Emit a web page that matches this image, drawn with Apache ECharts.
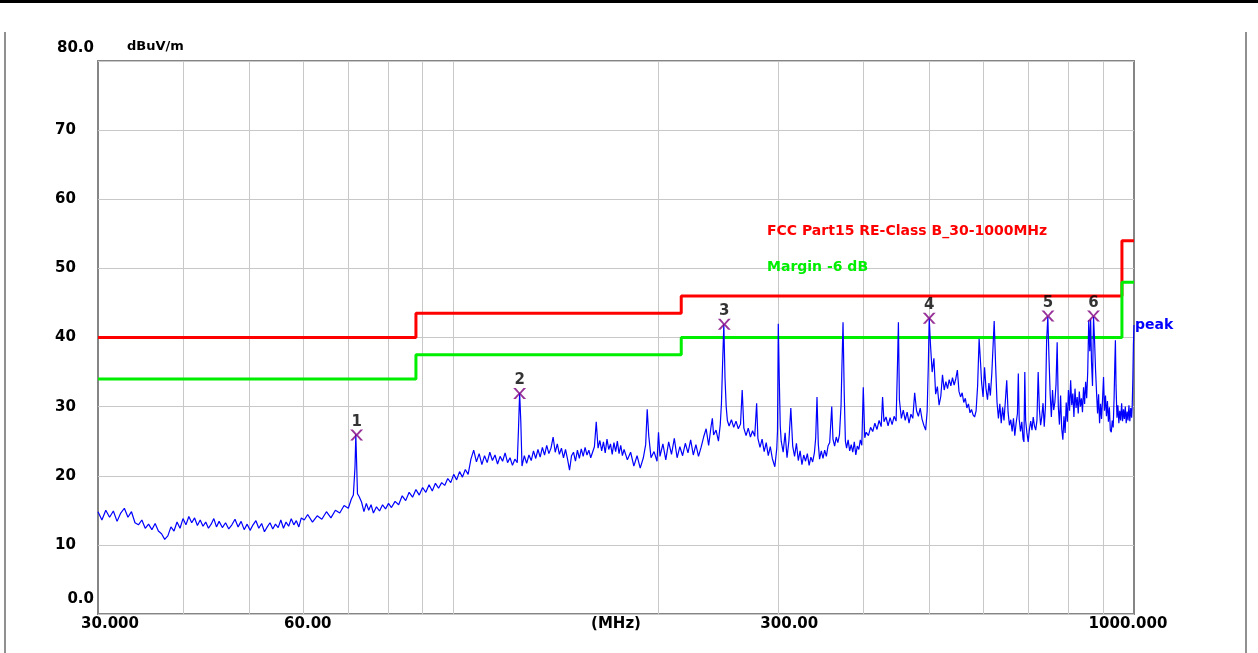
<!DOCTYPE html>
<html>
<head>
<meta charset="utf-8">
<script src="https://cdn.jsdelivr.net/npm/echarts@6/dist/echarts.min.js"></script>
<style>
  html, body { margin: 0; padding: 0; background: #fff; }
  #chart { width: 1258px; height: 653px; }
</style>
</head>
<body>
<div id="chart"></div>
<script>
// 扫描曲线: [频率 MHz, 场强 dBuV/m]
const trace = [
  [30.0,14.8],[30.4,13.6],[30.8,15.0],[31.2,14.0],[31.6,14.9],[32.0,13.4],[32.4,14.6],[32.8,15.3],[33.2,14.0],[33.6,14.8],
  [34.0,13.2],[34.4,12.9],[34.8,13.6],[35.2,12.4],[35.6,13.0],[36.0,12.2],[36.4,13.1],[36.8,12.0],[37.2,11.6],[37.6,10.8],
  [38.0,11.3],[38.4,12.6],[38.8,12.0],[39.2,13.3],[39.6,12.4],[40.0,13.8],[40.4,12.9],[40.8,14.1],[41.2,13.2],[41.6,13.9],
  [42.0,12.8],[42.4,13.6],[42.8,12.7],[43.2,13.3],[43.6,12.4],[44.0,13.0],[44.4,13.8],[44.8,12.6],[45.2,13.4],[45.7,12.5],
  [46.2,13.2],[46.7,12.3],[47.2,12.9],[47.7,13.7],[48.2,12.6],[48.7,13.4],[49.2,12.2],[49.7,13.0],[50.2,12.1],[50.7,12.9],
  [51.2,13.5],[51.7,12.4],[52.2,13.1],[52.7,11.9],[53.2,12.6],[53.7,13.2],[54.2,12.3],[54.7,13.0],[55.2,12.5],[55.7,13.6],
  [56.2,12.4],[56.7,13.3],[57.2,12.7],[57.7,13.8],[58.2,12.9],[58.7,13.5],[59.2,12.6],[59.7,13.9],
  [60.3,13.6],[61,14.4],[62,13.3],[63,14.2],[64,13.7],[65,14.8],[66,13.9],[67,15.0],[68,14.6],[69,15.7],
  [70,15.3],[70.7,16.6],[71.2,17.2],[71.6,21.3],[71.8,26.0],[72.0,25.9],[72.2,17.4],[72.6,17.0],[73.2,16.2],[73.8,14.8],
  [74.4,16.0],[75,15.0],[75.6,15.8],[76.2,14.6],[77,15.5],[77.8,14.9],[78.6,15.8],[79.4,15.2],[80.2,16.0],[81,15.4],
  [82,16.3],[83,15.8],[84,17.1],[85,16.4],[86,17.6],[87,16.9],[88,18.0],[89,17.2],[90,18.3],[91,17.6],
  [92,18.7],[93,17.8],[94,18.9],[95,18.2],[96,19.0],[97,18.6],[98,19.6],[99,19.0],[100,20.2],
  [101,19.4],[102,20.6],[103,19.8],[104,20.9],[105,20.2],[106,22.4],[107,23.7],[108,22.0],[109,23.2],[110,21.6],
  [111,22.9],[112,21.9],[113,23.4],[114,22.2],[115,23.0],[116,21.7],[117,22.8],[118,22.1],[119,23.3],[120,21.9],
  [121,22.6],[122,21.5],[123,22.4],[124,21.9],[124.5,26.6],[125,32.0],[125.5,27.8],[126,21.4],[127,22.9],[128,21.8],
  [129,23.0],[130,22.2],[131,23.6],[132,22.5],[133,23.8],[134,22.7],[135,24.1],[136,23.0],[137,24.4],[138,23.2],
  [139,24.0],[140,25.6],[141,23.4],[142,24.6],[143,23.1],[144,24.0],[145,22.6],[146,23.8],[147,22.4],[148,20.8],
  [149,22.9],[150,23.4],[151,22.1],[152,23.7],[153,22.5],[154,23.9],[155,22.8],[156,24.1],[157,23.0],[158,23.7],
  [159,22.6],[160,23.4],[161,24.2],[162,27.8],[163,24.0],[164,25.1],[165,23.6],[166,24.9],[167,23.3],[168,25.3],
  [169,23.8],[170,24.6],[171,23.1],[172,24.8],[173,23.5],[174,25.0],[175,23.2],[176,24.4],[177,22.9],[178,23.8],
  [180,22.3],[182,23.4],[184,21.4],[186,22.9],[188,21.1],[190,22.6],[191.5,24.5],[192.5,29.6],[193.5,25.8],[195,22.6],
  [197,23.5],[199,22.1],
  [200,26.3],[201,22.8],[203,24.6],[205,22.3],[207,24.9],[209,23.1],[211,25.4],[213,22.6],[215,24.2],[217,22.9],
  [219,24.7],[221,23.3],[223,25.2],[225,23.0],[227,24.5],[229,22.8],[231,24.1],[233,25.6],[235,26.8],[237,24.4],
  [239,27.2],[240,28.3],[241,25.9],[243,26.6],[245,25.0],[246.5,27.4],[247.5,30.5],[248.5,36.5],[249.5,41.9],[250.5,34.1],
  [251.5,30.0],[252.5,28.0],[254,27.2],[256,28.1],[258,27.0],[260,27.9],[262,26.8],[264,27.5],[265.5,32.4],[267,26.9],
  [269,25.8],[271,26.9],[273,25.6],[275,26.5],[277,25.7],[278.8,30.5],[280,25.4],[282,24.1],[284,25.3],[286,23.5],
  [288,24.8],[290,22.9],[292,24.2],[294,22.5],[296.5,21.3],[298.5,24.0],[299.2,26.5],[300,42.0],[301,34.0],[302,27.2],
  [303,25.0],[305,23.4],[307,26.2],[309,22.6],[311,25.1],[313,29.8],[315,24.3],[317,22.8],[319,24.7],[321,22.2],
  [323,23.6],[325,21.6],[327,23.0],[329,22.1],[331,23.2],[333,21.5],[335,22.7],[337,22.0],[339,23.3],[340.5,25.5],
  [342,31.4],[343.5,24.6],[345,22.4],[347,23.6],[349,22.5],[351,23.7],[353,22.8],[355,24.3],[357,24.8],[359.5,30.0],
  [361,25.3],[363,24.3],[365,25.6],[367,24.8],[369,25.9],[371,30.2],[372,35.3],[373.5,42.2],[375,32.0],[376.5,25.0],
  [378,24.0],[380,25.2],[382,23.6],[384,24.5],[386,23.4],[388,24.9],[390,23.0],[392,24.3],[394,23.8],[396,25.2],
  [398,24.4],[400,32.8],[402,25.5],[404,26.3],[407,25.8],[410,27.0],[413,26.4],[416,27.6],[419,26.7],[422,28.0],
  [425,27.1],[427,31.4],[429,27.8],[432,28.5],[435,27.2],[438,28.4],[441,27.4],[444,28.6],[447,27.9],[449,35.7],
  [450.5,42.2],[452,31.0],[455,28.3],[458,29.5],[461,28.0],[464,29.2],[467,27.6],[470,28.9],[473,28.3],[476,32.0],
  [479,29.4],[482,28.6],[485,29.8],[488,28.2],[491,27.3],[494,26.6],[496.5,29.3],[498.5,36.0],[500,42.8],[502,39.2],
  [505,35.0],[508,37.0],[511,31.8],[514,32.9],[517,30.2],
  [520,31.5],[523,34.6],[526,32.4],[529,33.6],[532,32.6],[535,33.9],[538,33.0],[541,34.2],[544,33.1],[547,34.0],
  [550,35.3],[553,32.2],[556,31.4],[559,32.0],[562,30.6],[565,31.2],[568,29.8],[571,30.4],[574,29.1],[577,29.6],
  [580,28.8],[583,28.5],[586,29.4],[589,33.0],[592,39.8],[595,36.2],[597,33.5],[600,31.4],[603,35.7],[606,32.6],
  [609,31.0],[612,33.4],[615,31.6],[618,34.8],[620.5,38.6],[623,42.4],[626,36.0],[629,30.6],[632,28.3],[635,30.4],
  [638,27.6],[641,29.9],[644,28.0],[647,30.8],[650,33.8],[653,29.2],[656,27.3],[659,28.1],[662,26.4],[665,28.3],
  [668,25.8],[671,27.6],[674,29.0],[676,34.8],[678,28.2],[681,26.4],[684,27.8],[687,25.3],[689,24.9],[691,35.0],
  [693,28.0],[696,26.2],[699,24.9],[702,26.8],[705,27.9],[708,26.6],[711,28.5],[714,27.2],[717,26.6],[720,28.0],
  [723,35.0],[726,29.6],[729,27.3],[732,28.6],[735,30.5],[738,27.1],[741,30.0],[744,39.6],[747,43.0],[750,37.0],
  [753,31.8],[756,28.5],[759,32.4],[762,29.5],[765,30.6],[768,33.2],[771,39.3],[774,30.0],[777,27.4],[780,31.6],
  [783,26.8],[786,25.2],[789,28.6],[792,26.2],[795,30.6],[798,27.8],[801,32.4],[804,29.4],[807,33.8],[810,30.2],
  [813,31.9],[816,28.5],[819,32.6],[822,29.8],[825,31.4],[828,29.0],[831,32.2],[834,30.0],[837,31.2],[840,29.2],
  [843,32.8],[846,30.4],[849,33.6],[852,31.2],[855,35.0],[858,42.5],[861,38.0],[863.5,42.6],[866,36.5],[869,33.0],
  [872,43.0],[875,39.6],[878,35.3],[881,32.0],[884,29.0],[887,31.8],[890,27.6],[893,30.4],[896,28.2],[899,31.0],
  [902,34.3],[905,29.4],[908,31.6],[911,28.6],[914,30.8],[917,27.8],[920,29.9],[923,26.6],[926,26.3],[929,28.0],
  [932,27.0],[935,31.5],[937,36.0],[939,39.6],[941,33.0],[944,28.4],[947,30.2],[950,27.6],[953,29.4],[956,28.0],
  [959,30.5],[962,27.9],[965,29.6],[968,28.2],[971,30.0],[974,27.6],[977,29.3],[980,28.0],[983,30.2],[986,27.9],
  [989,29.8],[992,28.4],[994,30.1],[996,33.8],[998,39.0],[1000,41.8]
];

// 限值线 FCC Part15 Class B 及 -6dB 余量
const limitLine = [[30,40],[88,43.5],[216,46],[960,54],[1000,54]];
const marginLine = [[30,34],[88,37.5],[216,40],[960,48],[1000,48]];

// 标记点 [频率, 读数, 编号]
const markers = [
  [72.0, 25.9, '1'],
  [125.0, 31.9, '2'],
  [249.9, 41.9, '3'],
  [500.0, 42.8, '4'],
  [747.4, 43.1, '5'],
  [872.0, 43.1, '6']
];

const limitName = 'FCC Part15 RE-Class B_30-1000MHz';
const marginName = 'Margin -6 dB';

const yTicks = [10, 20, 30, 40, 50, 60, 70];
const yEndTicks = [0, 80];
const yEndLabels = ['0.0', '80.0'];
const xGridFreqs = [40, 50, 60, 70, 80, 90, 100, 200, 300, 400, 500, 600, 700, 800, 900];
const xTickFreqs = [30, 60, 300, 1000];
const xTickLabels = ['30.000', '60.00', '300.00', '1000.000'];

const FONT = 'DejaVu Sans';
const lg = (f) => Math.log10(f);
const toXY = (arr) => arr.map(p => [lg(p[0]), p[1]]);
const txt = (size, extra) => Object.assign({ fontFamily: FONT, fontWeight: 'bold', fontSize: size, color: '#000' }, extra || {});

const chart = echarts.init(document.getElementById('chart'));

const option = {
  backgroundColor: '#fff',
  animation: false,
  legend: {
    left: 757,
    top: 219,
    orient: 'vertical',
    icon: 'none',
    itemWidth: 0,
    itemHeight: 14,
    itemGap: 22,
    selectedMode: false,
    textStyle: { fontFamily: FONT, fontWeight: 'bold', fontSize: 14 },
    data: [
      { name: limitName, textStyle: { color: '#ff0000' } },
      { name: marginName, textStyle: { color: '#00ee00' } }
    ]
  },
  grid: {
    left: 98, top: 61, width: 1036, height: 553,
    show: true,
    borderColor: '#858585',
    borderWidth: 2,
    containLabel: false
  },
  xAxis: {
    type: 'value',
    min: lg(30),
    max: lg(1000),
    name: '(MHz)',
    nameLocation: 'middle',
    nameGap: 3,
    nameMoveOverlap: false,
    nameTextStyle: txt(15, { verticalAlign: 'top' }),
    axisLine: { show: false },
    axisTick: { show: false, customValues: xGridFreqs.map(lg) },
    splitLine: { show: true, lineStyle: { color: '#c8c8c8', width: 1 } },
    axisLabel: Object.assign(txt(15), {
      customValues: xTickFreqs.map(lg),
      margin: 3,
      formatter: function (v) {
        const i = xTickFreqs.findIndex(f => Math.abs(lg(f) - v) < 1e-6);
        return '{l' + i + '|' + xTickLabels[i] + '}';
      },
      rich: {
        l0: txt(15, { padding: [0, 0, 0, 24] }),
        l1: txt(15, { padding: [0, 0, 0, 10] }),
        l2: txt(15, { padding: [0, 0, 0, 22] }),
        l3: txt(15, { padding: [0, 12, 0, 0] })
      }
    })
  },
  yAxis: [
    {
      type: 'value',
      min: 0, max: 80, interval: 10,
      name: 'dBuV/m',
      nameLocation: 'end',
      nameGap: 8,
      nameTextStyle: txt(13, { align: 'left', padding: [0, 0, 0, 29] }),
      axisLine: { show: false },
      axisTick: { show: false },
      splitLine: { show: true, lineStyle: { color: '#c8c8c8', width: 1 } },
      axisLabel: Object.assign(txt(15), {
        customValues: yTicks,
        align: 'left',
        margin: 43
      })
    },
    {
      // 0.0 / 80.0 两端刻度文字单独右对齐
      type: 'value',
      position: 'left',
      min: 0, max: 80, interval: 10,
      axisLine: { show: false },
      axisTick: { show: false },
      splitLine: { show: false },
      axisLabel: Object.assign(txt(15), {
        customValues: yEndTicks,
        align: 'right',
        margin: 4,
        formatter: function (v) {
          return v === 0 ? '{b|' + yEndLabels[0] + '}' : '{t|' + yEndLabels[1] + '}';
        },
        rich: {
          t: txt(15, { padding: [0, 0, 26, 0] }),
          b: txt(15, { padding: [0, 0, 30, 0] })
        }
      })
    }
  ],
  series: [
    {
      name: limitName,
      type: 'line',
      step: 'end',
      symbol: 'none',
      lineStyle: { color: '#ff0000', width: 3 },
      itemStyle: { color: '#ff0000' },
      data: toXY(limitLine),
      z: 2
    },
    {
      name: marginName,
      type: 'line',
      step: 'end',
      symbol: 'none',
      lineStyle: { color: '#00ee00', width: 3 },
      itemStyle: { color: '#00ee00' },
      data: toXY(marginLine),
      z: 2
    },
    {
      name: 'peak',
      type: 'line',
      symbol: 'none',
      sampling: null,
      lineStyle: { color: '#0000ff', width: 1.2 },
      data: toXY(trace),
      endLabel: {
        show: true,
        formatter: 'peak',
        distance: 1,
        color: '#0000ff',
        fontFamily: FONT, fontWeight: 'bold', fontSize: 14
      },
      z: 3
    },
    {
      name: 'marker',
      type: 'scatter',
      symbol: 'path://M0,0 L2.5,0 L6,4 L9.5,0 L12,0 L7.3,5 L12,10 L9.5,10 L6,6 L2.5,10 L0,10 L4.7,5 Z',
      symbolSize: [13, 11],
      itemStyle: { color: '#800080' },
      label: {
        show: true,
        position: 'top',
        distance: 0,
        formatter: '{b}',
        color: '#000',
        fontFamily: FONT, fontWeight: 'bold', fontSize: 15
      },
      data: markers.map(m => ({ name: m[2], value: [lg(m[0]), m[1]] })),
      z: 4
    }
  ],
  graphic: [
    { type: 'rect', shape: { x: 0, y: 0, width: 1258, height: 3 }, style: { fill: '#000' } },
    { type: 'rect', shape: { x: 4, y: 32, width: 2, height: 621 }, style: { fill: '#909090' } },
    { type: 'rect', shape: { x: 1245, y: 32, width: 2, height: 621 }, style: { fill: '#909090' } }
  ]
};

chart.setOption(option);
</script>
</body>
</html>
